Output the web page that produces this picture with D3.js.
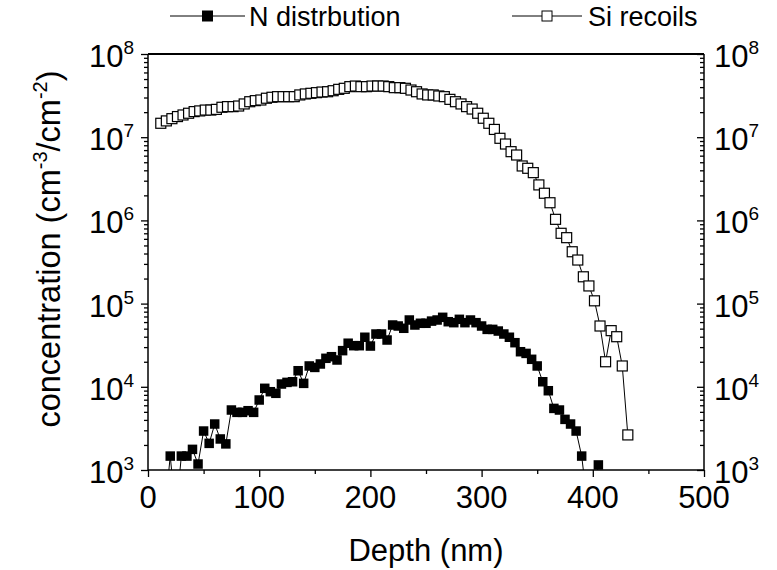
<!DOCTYPE html>
<html>
<head>
<meta charset="utf-8">
<script src="https://cdn.jsdelivr.net/npm/d3@7/dist/d3.min.js"></script>
<style>
  body { margin: 0; background: #fff; }
  svg { display: block; font-family: "Liberation Sans", Arial, sans-serif; }
</style>
</head>
<body>
<svg id="chart" width="777" height="570"></svg>
<script>
// N distribution (filled squares)
var nDepth = [15, 20, 25, 30, 35, 40, 45, 50, 55, 60, 65, 70, 75, 80, 85, 90, 95, 100,
  105, 110, 115, 120, 125, 130, 135, 140, 145, 150, 155, 160, 165, 170, 175, 180, 185,
  190, 195, 200, 205, 210, 215, 220, 225, 230, 235, 240, 245, 250, 255, 260, 265, 270,
  275, 280, 285, 290, 295, 300, 305, 310, 315, 320, 325, 330, 335, 340, 345, 350, 355,
  360, 365, 370, 375, 380, 385, 390, 395, 400, 405];
var nConc = [300, 1470, 300, 1470, 1470, 1770, 1180, 2940, 2090, 3570, 2360, 2060, 5260,
  4930, 4930, 5160, 4930, 6940, 9590, 8730, 8350, 10800, 11300, 11500, 15600, 11000,
  17800, 17100, 18800, 22000, 23000, 21000, 27200, 33400, 31200, 31200, 39400, 30900,
  43100, 43100, 36500, 55300, 53800, 50500, 63500, 55300, 58000, 58000, 61600, 63500,
  68400, 60600, 59000, 64700, 59000, 63500, 59000, 53800, 49000, 49000, 46800, 43100,
  39400, 33900, 26400, 25200, 21400, 17800, 11500, 8970, 5500, 5260, 4060, 3570, 2940,
  1470, 400, 400, 1150];

// Si recoils (open squares)
var siDepth = [11.5, 16.5, 21.5, 26.5, 31.5, 36.5, 41.5, 46.5, 51.5, 56.5, 61.5, 66.5,
  71.5, 76.5, 81.5, 86.5, 91.5, 96.5, 101.5, 106.5, 111.5, 116.5, 121.5, 126.5, 131.5,
  136.5, 141.5, 146.5, 151.5, 156.5, 161.5, 166.5, 171.5, 176.5, 181.5, 186.5, 191.5,
  196.5, 201.5, 206.5, 211.5, 216.5, 221.5, 226.5, 231.5, 236.5, 241.5, 246.5, 251.5,
  256.5, 261.5, 266.5, 271.5, 276.5, 281.5, 286.5, 291.5, 296.5, 301.5, 306.5, 311.5,
  316.5, 321.5, 326.5, 331.5, 336.5, 341.5, 346.5, 351.5, 356.5, 361.5, 366.5, 371.5,
  376.5, 381.5, 386.5, 391.5, 396.5, 401.5, 406.5, 411.5, 416.5, 421.5, 426.5, 431.5];
var siConc = [1.47e7, 1.57e7, 1.67e7, 1.77e7, 1.85e7, 1.94e7, 2.03e7, 2.07e7, 2.12e7,
  2.12e7, 2.16e7, 2.29e7, 2.33e7, 2.33e7, 2.37e7, 2.51e7, 2.67e7, 2.75e7, 2.80e7, 2.94e7,
  3.02e7, 3.07e7, 3.07e7, 3.07e7, 3.07e7, 3.22e7, 3.31e7, 3.37e7, 3.43e7, 3.49e7, 3.52e7,
  3.62e7, 3.76e7, 3.87e7, 4.05e7, 4.12e7, 4.05e7, 4.05e7, 4.12e7, 4.12e7, 4.12e7, 4.05e7,
  3.94e7, 3.94e7, 3.87e7, 3.69e7, 3.52e7, 3.31e7, 3.22e7, 3.22e7, 3.13e7, 3.07e7, 2.85e7,
  2.67e7, 2.51e7, 2.33e7, 2.18e7, 1.94e7, 1.69e7, 1.47e7, 1.24e7, 9.7e6, 8.28e6, 6.7e6,
  6.11e6, 4.51e6, 4.23e6, 3.75e6, 2.67e6, 2.12e6, 1.63e6, 1.03e6, 7.0e5, 6.2e5, 4.2e5,
  3.34e5, 2.1e5, 1.63e5, 1.08e5, 5.38e4, 2.0e4, 4.73e4, 4.0e4, 1.78e4, 2.64e3];

var xTicks = [0, 100, 200, 300, 400, 500];
var xMinor = [50, 150, 250, 350, 450];
var yExponents = [3, 4, 5, 6, 7, 8];
var seriesNames = ["N distrbution", "Si recoils"];

var pL = 148, pR = 704, pT = 54, pB = 470;
var svg = d3.select("#chart");

var x = d3.scaleLinear().domain([0, 500]).range([pL, pR]);
var y = d3.scaleLog().domain([1e3, 1e8]).range([pB, pT]);

var yMajor = yExponents.map(function(e) { return Math.pow(10, e); });
var yMinor = [];
yExponents.slice(0, -1).forEach(function(e) {
  for (var m = 2; m <= 9; m++) yMinor.push(m * Math.pow(10, e));
});

// axes ticks (labels added by hand below)
function styleAxis(g) {
  g.select(".domain").remove();
  g.selectAll("line").attr("stroke", "#000").attr("stroke-width", 1.3);
  g.selectAll("text").remove();
}
svg.append("g").attr("transform", "translate(0," + pB + ")")
  .call(d3.axisBottom(x).tickValues(xTicks).tickSize(7).tickSizeOuter(0)).call(styleAxis);
svg.append("g").attr("transform", "translate(0," + pB + ")")
  .call(d3.axisBottom(x).tickValues(xMinor).tickSize(4).tickSizeOuter(0)).call(styleAxis);
svg.append("g").attr("transform", "translate(" + pL + ",0)")
  .call(d3.axisLeft(y).tickValues(yMajor).tickSize(7).tickSizeOuter(0)).call(styleAxis);
svg.append("g").attr("transform", "translate(" + pL + ",0)")
  .call(d3.axisLeft(y).tickValues(yMinor).tickSize(4).tickSizeOuter(0)).call(styleAxis);
svg.append("g").attr("transform", "translate(" + pR + ",0)")
  .call(d3.axisLeft(y).tickValues(yMajor).tickSize(7).tickSizeOuter(0)).call(styleAxis);
svg.append("g").attr("transform", "translate(" + pR + ",0)")
  .call(d3.axisLeft(y).tickValues(yMinor).tickSize(4).tickSizeOuter(0)).call(styleAxis);

// frame
svg.append("line").attr("x1", pL).attr("x2", pR).attr("y1", pT).attr("y2", pT)
  .attr("stroke", "#000").attr("stroke-width", 2);
svg.append("line").attr("x1", pL).attr("x2", pR).attr("y1", pB).attr("y2", pB)
  .attr("stroke", "#000").attr("stroke-width", 1.5);
svg.append("line").attr("x1", pL).attr("x2", pL).attr("y1", pT).attr("y2", pB)
  .attr("stroke", "#000").attr("stroke-width", 1.5);
svg.append("line").attr("x1", pR).attr("x2", pR).attr("y1", pT).attr("y2", pB)
  .attr("stroke", "#000").attr("stroke-width", 1.5);

// tick labels
svg.selectAll(".xlab").data(xTicks).enter().append("text")
  .attr("x", function(d) { return x(d); }).attr("y", pB + 38)
  .attr("text-anchor", "middle").attr("font-size", 31).text(function(d) { return d; });

function powLabel(sel, anchor) {
  sel.attr("font-size", 31).attr("text-anchor", anchor)
    .text("10")
    .append("tspan").attr("font-size", 19).attr("dy", -13)
    .text(function(d) { return d; });
}
svg.selectAll(".ylabL").data(yExponents).enter().append("text")
  .attr("x", 134).attr("y", function(d) { return y(Math.pow(10, d)) + 13; })
  .call(powLabel, "end");
svg.selectAll(".ylabR").data(yExponents).enter().append("text")
  .attr("x", 714).attr("y", function(d) { return y(Math.pow(10, d)) + 13; })
  .call(powLabel, "start");

// axis titles
svg.append("text").attr("x", (pL + pR) / 2).attr("y", 561)
  .attr("text-anchor", "middle").attr("font-size", 31).text("Depth (nm)");

var yt = svg.append("text").attr("transform", "translate(60,249) rotate(-90)")
  .attr("text-anchor", "middle").attr("font-size", 32.5);
yt.append("tspan").text("concentration (cm");
yt.append("tspan").attr("font-size", 20).attr("dy", -13).text("-3");
yt.append("tspan").attr("dy", 13).text("/cm");
yt.append("tspan").attr("font-size", 20).attr("dy", -13).text("-2");
yt.append("tspan").attr("dy", 13).text(")");

// data
svg.append("clipPath").attr("id", "clip").append("rect")
  .attr("x", pL).attr("y", pT).attr("width", pR - pL).attr("height", pB - pT);
var plot = svg.append("g").attr("clip-path", "url(#clip)");

var nData = nDepth.map(function(d, i) { return [d, nConc[i]]; });
var siData = siDepth.map(function(d, i) { return [d, siConc[i]]; });
var line = d3.line().x(function(d) { return x(d[0]); }).y(function(d) { return y(d[1]); });

plot.append("path").datum(nData).attr("d", line)
  .attr("fill", "none").attr("stroke", "#000").attr("stroke-width", 1);
plot.append("path").datum(siData).attr("d", line)
  .attr("fill", "none").attr("stroke", "#000").attr("stroke-width", 1);

var ns = 9.5, ss = 10;
plot.selectAll(".nsq").data(nData).enter().append("rect")
  .attr("x", function(d) { return x(d[0]) - ns / 2; })
  .attr("y", function(d) { return y(d[1]) - ns / 2; })
  .attr("width", ns).attr("height", ns).attr("fill", "#000");
plot.selectAll(".ssq").data(siData).enter().append("rect")
  .attr("x", function(d) { return x(d[0]) - ss / 2; })
  .attr("y", function(d) { return y(d[1]) - ss / 2; })
  .attr("width", ss).attr("height", ss)
  .attr("fill", "#fff").attr("stroke", "#000").attr("stroke-width", 1.2);

// legend
var legendPos = [{ x1: 170, x2: 245, tx: 249 }, { x1: 512, x2: 582, tx: 588 }];
legendPos.forEach(function(p, i) {
  var cx = (p.x1 + p.x2) / 2, cy = 16;
  svg.append("line").attr("x1", p.x1).attr("x2", p.x2).attr("y1", cy).attr("y2", cy)
    .attr("stroke", "#000").attr("stroke-width", 1);
  svg.append("rect").attr("x", cx - 5).attr("y", cy - 5).attr("width", 10).attr("height", 10)
    .attr("fill", i === 0 ? "#000" : "#fff").attr("stroke", "#000").attr("stroke-width", 1);
  svg.append("text").attr("x", p.tx).attr("y", cy + 10).attr("font-size", 27)
    .text(seriesNames[i]);
});
</script>
</body>
</html>
